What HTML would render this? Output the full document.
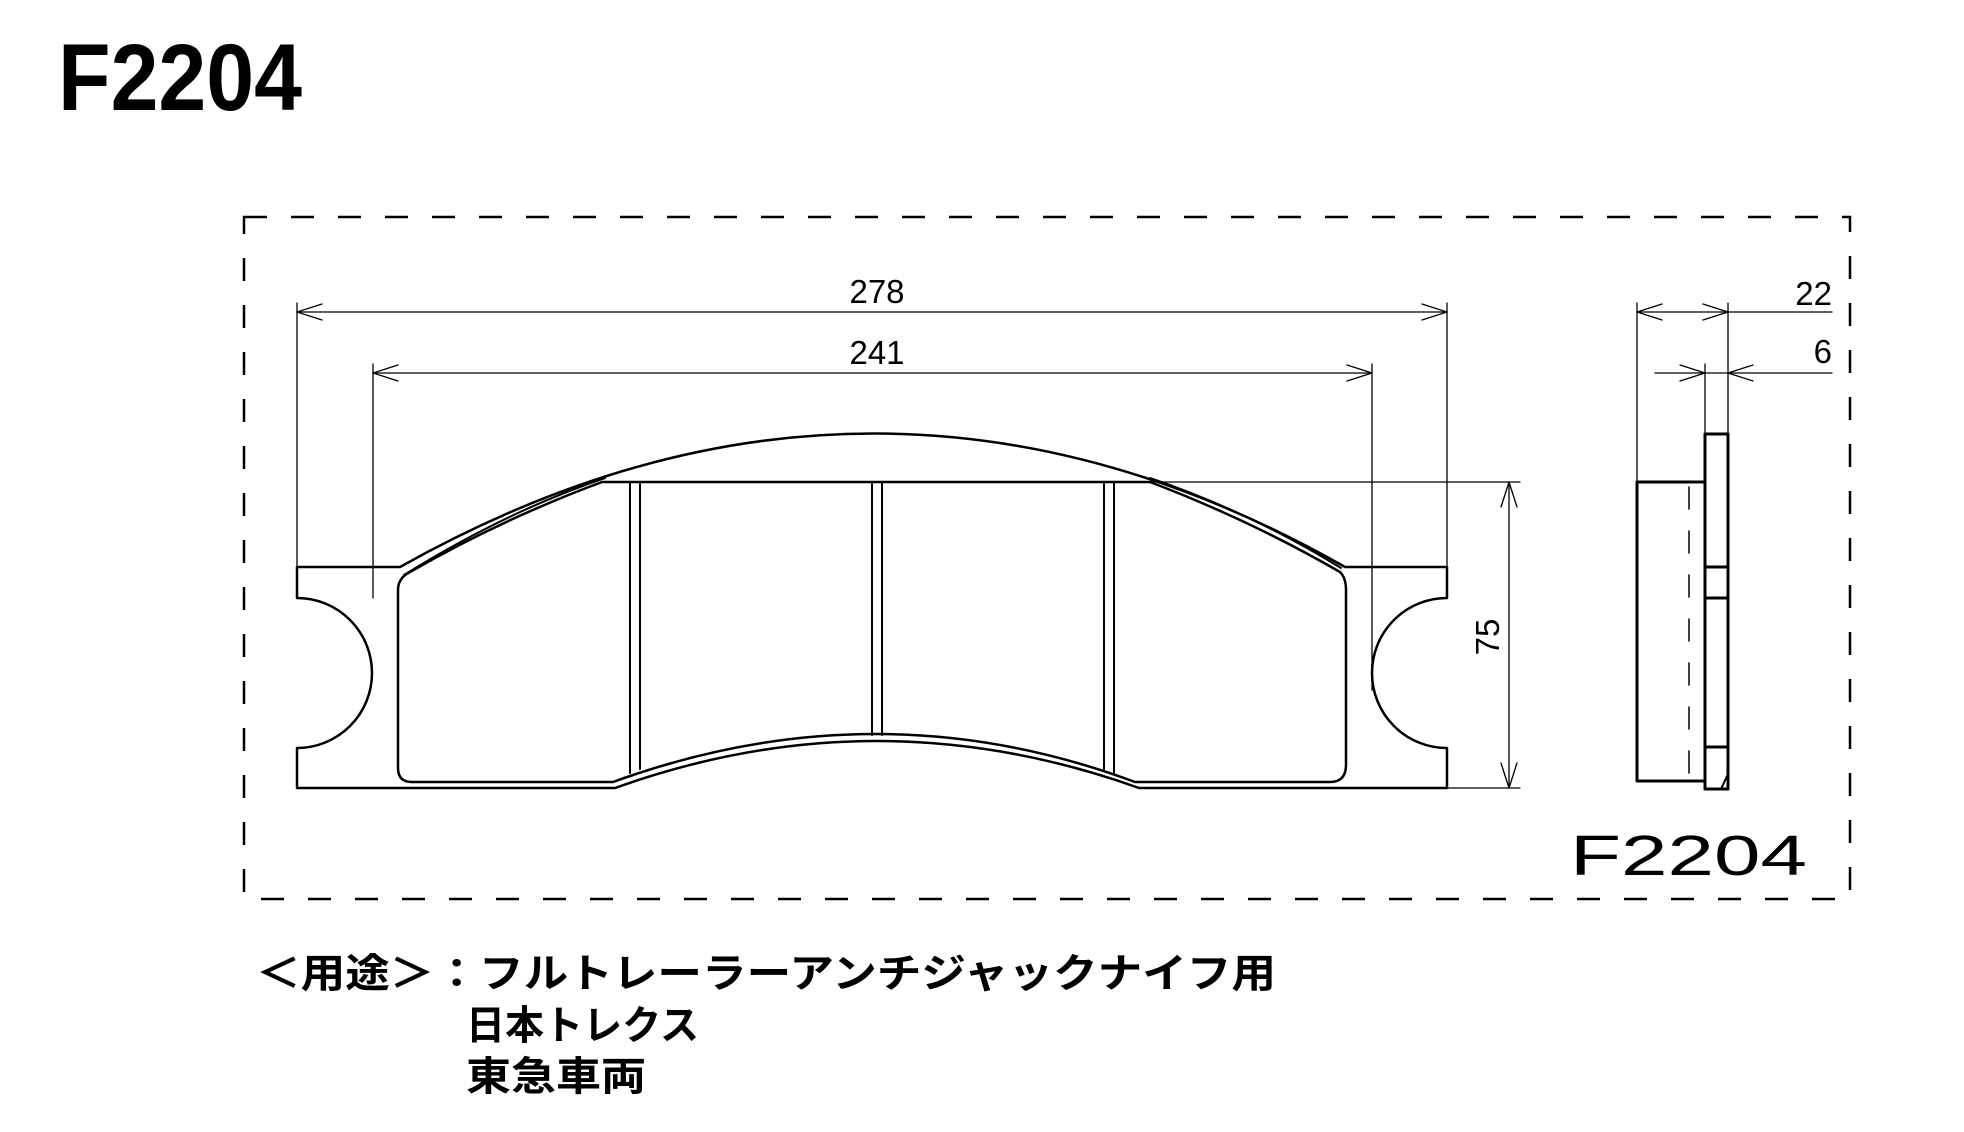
<!DOCTYPE html>
<html><head><meta charset="utf-8"><style>
html,body{margin:0;padding:0;background:#fff;}
svg{display:block;}
</style></head><body>
<svg width="1964" height="1132" viewBox="0 0 1964 1132" xmlns="http://www.w3.org/2000/svg">
<rect width="1964" height="1132" fill="#fff"/>
<text x="58" y="110" font-family="Liberation Sans, sans-serif" font-weight="bold" font-size="95" textLength="244" lengthAdjust="spacingAndGlyphs" fill="#000">F2204</text>

<rect x="244" y="217" width="1606" height="682" fill="none" stroke="#000" stroke-width="2.5" stroke-dasharray="23,24"/>

<g fill="none" stroke="#000" stroke-linecap="round" stroke-linejoin="round">
<path stroke-width="2.5" d="M297,567 L400,567 Q875,300 1345,567 L1447,567 L1447,598 A75,75 0 0 0 1447,748 L1447,788 L1139,788 Q877,694 615,788 L297,788 L297,748 A75,75 0 0 0 297,598 Z"/>
<path stroke-width="2.5" d="M602,482 L1150,482 Q1250,520 1340,572 Q1346,578 1346,590 L1346,765 Q1346,782 1330,782 L1135,782 Q877,686 613,782 L412,782 Q398,782 398,768 L398,590 Q398,578 410,572 Q500,520 602,482 Z"/>
<path stroke-width="2" d="M404,575 Q505,512 605,478"/>
<path stroke-width="2" d="M1150,478 Q1250,512 1341,568"/>
<line x1="630" y1="482" x2="630" y2="773" stroke-width="2"/>
<line x1="640" y1="482" x2="640" y2="769" stroke-width="2"/>
<line x1="872" y1="482" x2="872" y2="735" stroke-width="2"/>
<line x1="882" y1="482" x2="882" y2="735" stroke-width="2"/>
<line x1="1104" y1="482" x2="1104" y2="769" stroke-width="2"/>
<line x1="1114" y1="482" x2="1114" y2="773" stroke-width="2"/>

<g stroke-width="1.3">
<line x1="297" y1="303" x2="297" y2="567"/>
<line x1="1447" y1="303" x2="1447" y2="567"/>
<line x1="297" y1="312" x2="1447" y2="312"/>
<path d="M322,304 L297,312 L322,320 M1422,304 L1447,312 L1422,320"/>
<line x1="373" y1="364" x2="373" y2="598"/>
<line x1="1372" y1="364" x2="1372" y2="690"/>
<line x1="373" y1="373" x2="1372" y2="373"/>
<path d="M398,365 L373,373 L398,381 M1347,365 L1372,373 L1347,381"/>
<line x1="1150" y1="482" x2="1520" y2="482"/>
<line x1="1447" y1="788" x2="1520" y2="788"/>
<line x1="1509" y1="482" x2="1509" y2="788"/>
<path d="M1501,507 L1509,482 L1517,507 M1501,763 L1509,788 L1517,763"/>
<line x1="1637" y1="303" x2="1637" y2="482"/>
<line x1="1728" y1="303" x2="1728" y2="434"/>
<line x1="1705" y1="364" x2="1705" y2="434"/>
<line x1="1637" y1="312" x2="1832" y2="312"/>
<path d="M1662,304 L1637,312 L1662,320 M1703,304 L1728,312 L1703,320"/>
<line x1="1655" y1="373" x2="1832" y2="373"/>
<path d="M1680,365 L1705,373 L1680,381 M1753,365 L1728,373 L1753,381"/>
</g>

<path stroke-width="3" d="M1705,482 L1637,482 L1637,781 L1705,781"/>
<rect x="1705" y="434" width="23" height="355" stroke-width="3"/>
<line x1="1705" y1="567" x2="1728" y2="567" stroke-width="3"/>
<line x1="1705" y1="598" x2="1728" y2="598" stroke-width="3"/>
<line x1="1705" y1="747" x2="1728" y2="747" stroke-width="3"/>
<path d="M1721,789 L1728,774" stroke-width="2"/>
<line x1="1689" y1="487" x2="1689" y2="781" stroke-width="1.5" stroke-dasharray="22,22"/>
</g>

<g font-family="Liberation Sans, sans-serif" fill="#000">
<text x="877" y="303" font-size="33" text-anchor="middle">278</text>
<text x="877" y="364" font-size="33" text-anchor="middle">241</text>
<text x="1832" y="305" font-size="33" text-anchor="end">22</text>
<text x="1832" y="363" font-size="33" text-anchor="end">6</text>
<text transform="translate(1499,637) rotate(-90)" font-size="33" text-anchor="middle">75</text>
<text x="1570" y="875" font-size="57" textLength="237" lengthAdjust="spacingAndGlyphs">F2204</text>
</g>

<g font-family="'Noto Sans CJK JP', sans-serif" font-weight="bold" font-size="40" fill="#000">
<text x="256" y="987" textLength="1020" lengthAdjust="spacingAndGlyphs">＜用途＞：フルトレーラーアンチジャックナイフ用</text>
<text x="466" y="1039" textLength="233" lengthAdjust="spacingAndGlyphs">日本トレクス</text>
<text x="466" y="1090" textLength="180" lengthAdjust="spacingAndGlyphs">東急車両</text>
</g>
</svg>
</body></html>
